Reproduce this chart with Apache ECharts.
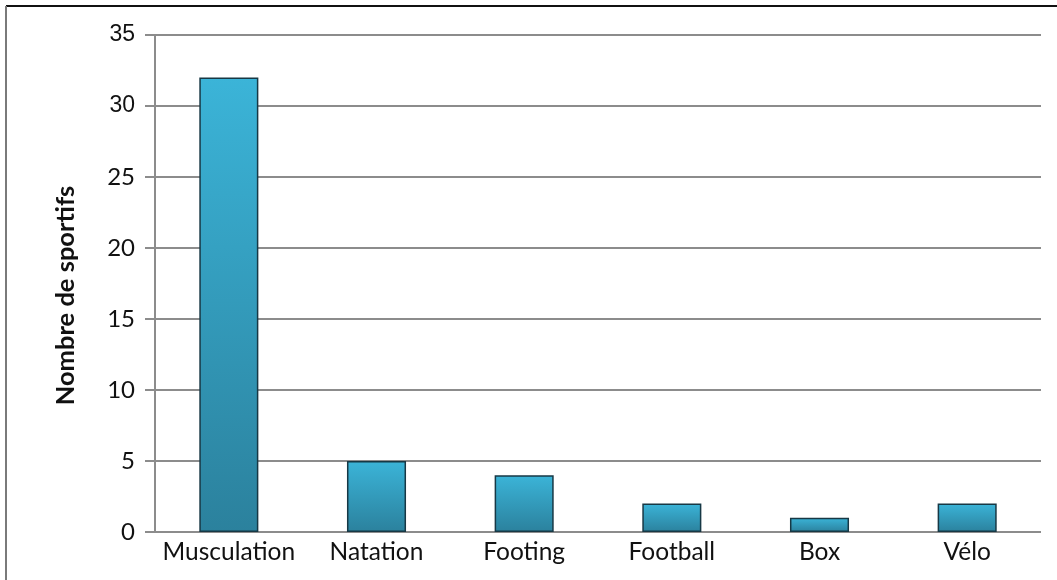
<!DOCTYPE html>
<html>
<head>
<meta charset="utf-8">
<style>
  html, body { margin: 0; padding: 0; background: #fff; }
  #chart { width: 1057px; height: 580px; }
</style>
<script src="https://cdn.jsdelivr.net/npm/echarts@6/dist/echarts.min.js"></script>
</head>
<body>
<div id="chart"></div>
<script>
// Sports practised and number of athletes for each
const categories = ['Musculation', 'Natation', 'Footing', 'Football', 'Box', 'Vélo'];
const athletes = [32, 5, 4, 2, 1, 2];
const yAxisTitle = 'Nombre de sportifs';

const chart = echarts.init(document.getElementById('chart'));

chart.setOption({
  animation: false,
  backgroundColor: '#ffffff',
  grid: { left: 155, right: 16, top: 35, bottom: 48, containLabel: false },
  xAxis: {
    type: 'category',
    data: categories,
    axisLine: { show: false },
    axisTick: { show: false },
    axisLabel: {
      interval: 0,
      margin: 8,
      fontFamily: 'Lato',
      fontSize: 24.5,
      color: '#111'
    }
  },
  yAxis: {
    type: 'value',
    min: 0,
    max: 35,
    interval: 5,
    name: yAxisTitle,
    nameLocation: 'middle',
    nameGap: 76,
    nameRotate: 90,
    nameTextStyle: {
      fontFamily: 'Lato',
      fontWeight: 'bold',
      fontSize: 25.5,
      color: '#111',
      padding: [0, 24, 0, 0]
    },
    axisLine: { show: true, lineStyle: { color: '#8c8c8c', width: 2 } },
    axisTick: { show: true, length: 10, lineStyle: { color: '#8c8c8c', width: 2 } },
    splitLine: { show: true, lineStyle: { color: '#8c8c8c', width: 2 } },
    axisLabel: {
      margin: 20,
      fontFamily: 'Lato',
      fontSize: 24,
      color: '#111',
      formatter: v => (v >= 30 ? '{a|' + v + '}' : String(v)),
      rich: {
        a: { fontFamily: 'Liberation Sans', fontSize: 23, color: '#111' }
      }
    }
  },
  series: [{
    type: 'bar',
    data: athletes,
    barWidth: '40%',
    itemStyle: {
      color: {
        type: 'linear', x: 0, y: 0, x2: 0, y2: 1,
        colorStops: [
          { offset: 0, color: '#3bb4d8' },
          { offset: 1, color: '#2b819d' }
        ]
      },
      borderColor: '#173845',
      borderWidth: 1.5
    }
  }],
  graphic: [
    {
      type: 'line',
      shape: { x1: 6, y1: 6, x2: 1057, y2: 6 },
      style: { stroke: '#111', lineWidth: 2 }
    },
    {
      type: 'line',
      shape: { x1: 6, y1: 6, x2: 6, y2: 580 },
      style: { stroke: '#7a7a7a', lineWidth: 2 }
    }
  ]
});
</script>
</body>
</html>
